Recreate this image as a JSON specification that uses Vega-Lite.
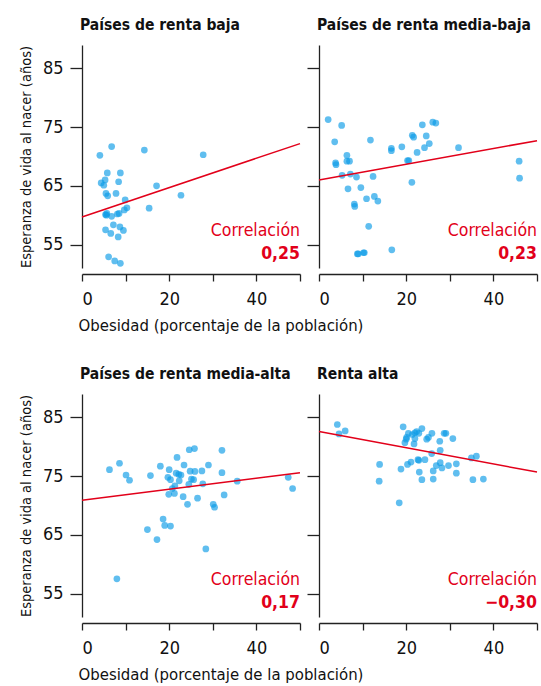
{
  "$schema": "https://vega.github.io/schema/vega-lite/v6.json",
  "padding": {"left": 18, "top": 17, "right": 0, "bottom": 0},
  "background": "white",
  "config": {
    "view": {"stroke": null},
    "font": "DejaVu Sans Condensed, Liberation Sans, sans-serif",
    "axis": {
      "grid": false,
      "domainColor": "#222",
      "domainWidth": 1.3,
      "tickColor": "#222",
      "tickWidth": 1.3,
      "labelFontSize": 18,
      "labelColor": "#111",
      "titleColor": "#111",
      "titleFontWeight": "normal"
    },
    "axisX": {"tickSize": 7, "offset": 6, "labelPadding": 9, "titleFontSize": 16.6, "titlePadding": 9},
    "axisY": {"tickSize": 12, "labelPadding": 7, "titleFontSize": 14.5, "titlePadding": 9},
    "title": {"anchor": "start", "frame": "group", "fontSize": 15.5, "fontWeight": "bold", "color": "#111", "offset": 12, "baseline": "alphabetic", "dx": -2}
  },
  "datasets": {
    "points": [
      {"g": "b", "x": 4.1, "y": 70.2}, {"g": "b", "x": 6.8, "y": 71.7}, {"g": "b", "x": 14.3, "y": 71.1}, {"g": "b", "x": 27.8, "y": 70.3},
      {"g": "b", "x": 5.8, "y": 67.2}, {"g": "b", "x": 8.8, "y": 67.2}, {"g": "b", "x": 5.3, "y": 66.0}, {"g": "b", "x": 4.4, "y": 65.5},
      {"g": "b", "x": 5.0, "y": 65.1}, {"g": "b", "x": 8.4, "y": 65.7}, {"g": "b", "x": 17.1, "y": 65.0}, {"g": "b", "x": 5.5, "y": 63.7},
      {"g": "b", "x": 5.9, "y": 63.3}, {"g": "b", "x": 7.8, "y": 63.7}, {"g": "b", "x": 22.7, "y": 63.4}, {"g": "b", "x": 9.9, "y": 62.6},
      {"g": "b", "x": 10.3, "y": 61.25}, {"g": "b", "x": 9.7, "y": 60.9}, {"g": "b", "x": 15.4, "y": 61.2}, {"g": "b", "x": 5.4, "y": 60.1},
      {"g": "b", "x": 5.7, "y": 60.3}, {"g": "b", "x": 6.8, "y": 59.8}, {"g": "b", "x": 8.1, "y": 60.2}, {"g": "b", "x": 8.5, "y": 60.3},
      {"g": "b", "x": 7.2, "y": 58.35}, {"g": "b", "x": 8.7, "y": 58.0}, {"g": "b", "x": 9.5, "y": 57.4}, {"g": "b", "x": 5.4, "y": 57.5},
      {"g": "b", "x": 6.6, "y": 56.9}, {"g": "b", "x": 8.3, "y": 56.3}, {"g": "b", "x": 6.1, "y": 52.9}, {"g": "b", "x": 7.5, "y": 52.2},
      {"g": "b", "x": 8.8, "y": 51.8}, {"g": "b", "x": 5.6, "y": 60.0},

      {"g": "mb", "x": 2.1, "y": 76.3}, {"g": "mb", "x": 5.2, "y": 75.3}, {"g": "mb", "x": 3.6, "y": 72.5}, {"g": "mb", "x": 11.8, "y": 72.8},
      {"g": "mb", "x": 3.8, "y": 68.9}, {"g": "mb", "x": 3.9, "y": 68.6}, {"g": "mb", "x": 6.4, "y": 70.2}, {"g": "mb", "x": 6.4, "y": 69.2},
      {"g": "mb", "x": 7.0, "y": 69.2}, {"g": "mb", "x": 5.3, "y": 66.8}, {"g": "mb", "x": 7.2, "y": 67.0}, {"g": "mb", "x": 8.6, "y": 66.5},
      {"g": "mb", "x": 12.4, "y": 66.6}, {"g": "mb", "x": 6.65, "y": 64.5}, {"g": "mb", "x": 9.6, "y": 64.7}, {"g": "mb", "x": 10.9, "y": 62.8},
      {"g": "mb", "x": 12.7, "y": 63.2}, {"g": "mb", "x": 13.5, "y": 62.4}, {"g": "mb", "x": 8.1, "y": 61.9}, {"g": "mb", "x": 8.2, "y": 61.5},
      {"g": "mb", "x": 11.4, "y": 58.1}, {"g": "mb", "x": 8.8, "y": 53.4}, {"g": "mb", "x": 9.0, "y": 53.4}, {"g": "mb", "x": 10.2, "y": 53.6},
      {"g": "mb", "x": 10.4, "y": 53.6}, {"g": "mb", "x": 16.7, "y": 54.1}, {"g": "mb", "x": 16.6, "y": 71.4}, {"g": "mb", "x": 16.6, "y": 71.0},
      {"g": "mb", "x": 19.0, "y": 71.65}, {"g": "mb", "x": 20.3, "y": 69.3}, {"g": "mb", "x": 20.6, "y": 69.3}, {"g": "mb", "x": 21.3, "y": 65.6},
      {"g": "mb", "x": 21.4, "y": 73.6}, {"g": "mb", "x": 21.7, "y": 73.3}, {"g": "mb", "x": 22.5, "y": 70.7}, {"g": "mb", "x": 23.7, "y": 75.4},
      {"g": "mb", "x": 24.6, "y": 73.5}, {"g": "mb", "x": 24.2, "y": 71.5}, {"g": "mb", "x": 25.3, "y": 72.2}, {"g": "mb", "x": 26.1, "y": 75.85},
      {"g": "mb", "x": 26.8, "y": 75.7}, {"g": "mb", "x": 32.0, "y": 71.5}, {"g": "mb", "x": 45.9, "y": 69.2}, {"g": "mb", "x": 46.0, "y": 66.3},

      {"g": "ma", "x": 6.3, "y": 76.1}, {"g": "ma", "x": 8.6, "y": 77.2}, {"g": "ma", "x": 10.1, "y": 75.2}, {"g": "ma", "x": 10.9, "y": 74.3},
      {"g": "ma", "x": 8.0, "y": 57.5}, {"g": "ma", "x": 15.0, "y": 65.9}, {"g": "ma", "x": 15.7, "y": 75.1}, {"g": "ma", "x": 17.2, "y": 64.2},
      {"g": "ma", "x": 18.6, "y": 67.7}, {"g": "ma", "x": 18.97, "y": 66.6}, {"g": "ma", "x": 20.3, "y": 66.5}, {"g": "ma", "x": 17.97, "y": 76.7},
      {"g": "ma", "x": 20.0, "y": 76.1}, {"g": "ma", "x": 19.7, "y": 74.8}, {"g": "ma", "x": 20.3, "y": 74.4}, {"g": "ma", "x": 21.8, "y": 78.2},
      {"g": "ma", "x": 21.6, "y": 75.5}, {"g": "ma", "x": 22.2, "y": 75.3}, {"g": "ma", "x": 22.7, "y": 75.2}, {"g": "ma", "x": 22.3, "y": 74.2},
      {"g": "ma", "x": 21.3, "y": 73.35}, {"g": "ma", "x": 20.7, "y": 72.9}, {"g": "ma", "x": 19.9, "y": 71.9}, {"g": "ma", "x": 21.2, "y": 72.05},
      {"g": "ma", "x": 23.4, "y": 76.9}, {"g": "ma", "x": 23.2, "y": 71.5}, {"g": "ma", "x": 24.2, "y": 70.2}, {"g": "ma", "x": 24.6, "y": 79.5},
      {"g": "ma", "x": 25.8, "y": 79.7}, {"g": "ma", "x": 24.8, "y": 75.85}, {"g": "ma", "x": 25.9, "y": 75.8}, {"g": "ma", "x": 25.1, "y": 74.5},
      {"g": "ma", "x": 25.6, "y": 74.4}, {"g": "ma", "x": 24.5, "y": 73.6}, {"g": "ma", "x": 26.5, "y": 71.25}, {"g": "ma", "x": 27.5, "y": 75.9},
      {"g": "ma", "x": 27.7, "y": 73.7}, {"g": "ma", "x": 29.0, "y": 76.9}, {"g": "ma", "x": 28.4, "y": 62.6}, {"g": "ma", "x": 30.1, "y": 70.2},
      {"g": "ma", "x": 30.4, "y": 69.7}, {"g": "ma", "x": 32.1, "y": 79.4}, {"g": "ma", "x": 32.1, "y": 75.6}, {"g": "ma", "x": 32.6, "y": 71.8},
      {"g": "ma", "x": 35.6, "y": 74.15}, {"g": "ma", "x": 47.3, "y": 74.8}, {"g": "ma", "x": 48.3, "y": 72.9},

      {"g": "a", "x": 4.2, "y": 83.8}, {"g": "a", "x": 4.6, "y": 82.2}, {"g": "a", "x": 6.0, "y": 82.7}, {"g": "a", "x": 13.9, "y": 77.0},
      {"g": "a", "x": 13.8, "y": 74.15}, {"g": "a", "x": 18.4, "y": 70.45}, {"g": "a", "x": 18.8, "y": 76.2}, {"g": "a", "x": 19.3, "y": 83.4},
      {"g": "a", "x": 19.7, "y": 80.7}, {"g": "a", "x": 20.0, "y": 81.3}, {"g": "a", "x": 20.1, "y": 81.6}, {"g": "a", "x": 20.5, "y": 82.3},
      {"g": "a", "x": 21.1, "y": 77.4}, {"g": "a", "x": 20.3, "y": 77.0}, {"g": "a", "x": 21.4, "y": 82.1}, {"g": "a", "x": 22.0, "y": 82.4},
      {"g": "a", "x": 22.0, "y": 81.4}, {"g": "a", "x": 21.8, "y": 80.5}, {"g": "a", "x": 22.4, "y": 82.6}, {"g": "a", "x": 22.9, "y": 82.3},
      {"g": "a", "x": 23.6, "y": 83.1}, {"g": "a", "x": 22.7, "y": 77.8}, {"g": "a", "x": 22.9, "y": 77.7}, {"g": "a", "x": 23.0, "y": 75.7},
      {"g": "a", "x": 23.6, "y": 74.4}, {"g": "a", "x": 24.3, "y": 77.8}, {"g": "a", "x": 24.7, "y": 81.3}, {"g": "a", "x": 25.1, "y": 81.6},
      {"g": "a", "x": 25.9, "y": 82.3}, {"g": "a", "x": 25.85, "y": 78.85}, {"g": "a", "x": 26.2, "y": 75.9}, {"g": "a", "x": 26.2, "y": 74.5},
      {"g": "a", "x": 26.9, "y": 76.8}, {"g": "a", "x": 27.7, "y": 80.95}, {"g": "a", "x": 27.8, "y": 79.4}, {"g": "a", "x": 27.8, "y": 77.3},
      {"g": "a", "x": 28.2, "y": 76.4}, {"g": "a", "x": 28.7, "y": 82.3}, {"g": "a", "x": 29.1, "y": 82.3}, {"g": "a", "x": 29.7, "y": 76.8},
      {"g": "a", "x": 30.7, "y": 81.4}, {"g": "a", "x": 31.5, "y": 77.1}, {"g": "a", "x": 31.5, "y": 75.5}, {"g": "a", "x": 34.95, "y": 78.1},
      {"g": "a", "x": 36.1, "y": 78.4}, {"g": "a", "x": 35.3, "y": 74.4}, {"g": "a", "x": 37.7, "y": 74.5}
    ],
    "lines": [
      {"g": "b", "x": 0, "y": 59.7}, {"g": "b", "x": 50, "y": 72.2},
      {"g": "mb", "x": 0, "y": 66.0}, {"g": "mb", "x": 50, "y": 72.7},
      {"g": "ma", "x": 0, "y": 70.9}, {"g": "ma", "x": 50, "y": 75.6},
      {"g": "a", "x": 0, "y": 82.6}, {"g": "a", "x": 50, "y": 75.7}
    ],
    "corr": [
      {"g": "b", "r": "0,25"}, {"g": "mb", "r": "0,23"}, {"g": "ma", "r": "0,17"}, {"g": "a", "r": "−0,30"}
    ]
  },
  "columns": 2,
  "bounds": "flush",
  "spacing": {"row": 126, "column": 19},
  "concat": [
    {
      "width": 218, "height": 223,
      "title": {"text": "Países de renta baja"},
      "layer": [
        {"data": {"name": "points"}, "transform": [{"filter": "datum.g == 'b'"}],
         "mark": {"type": "circle", "size": 45, "color": "#0a9be6", "opacity": 0.65},
         "encoding": {
           "x": {"field": "x", "type": "quantitative", "scale": {"domain": [0, 50], "nice": false},
                 "axis": {"values": [0, 10, 20, 30, 40, 50], "labelExpr": "datum.value % 20 == 0 ? datum.label : ''", "title": "Obesidad (porcentaje de la población)", "titleAnchor": "start", "titleAlign": "left", "titleX": -4}},
           "y": {"field": "y", "type": "quantitative", "scale": {"domain": [51, 89], "nice": false, "zero": false},
                 "axis": {"values": [55, 65, 75, 85], "title": "Esperanza de vida al nacer (años)"}}
         }},
        {"data": {"name": "lines"}, "transform": [{"filter": "datum.g == 'b'"}],
         "mark": {"type": "line", "color": "#e2001a", "strokeWidth": 1.5},
         "encoding": {"x": {"field": "x", "type": "quantitative"}, "y": {"field": "y", "type": "quantitative"}}},
        {"data": {"name": "corr"}, "transform": [{"filter": "datum.g == 'b'"}],
         "mark": {"type": "text", "align": "right", "baseline": "alphabetic", "fontSize": 17.5, "color": "#e2001a"},
         "encoding": {"x": {"datum": 50}, "y": {"datum": 56.4}, "text": {"value": "Correlación"}}},
        {"data": {"name": "corr"}, "transform": [{"filter": "datum.g == 'b'"}],
         "mark": {"type": "text", "align": "right", "baseline": "alphabetic", "fontSize": 17.5, "fontWeight": "bold", "color": "#e2001a"},
         "encoding": {"x": {"datum": 50}, "y": {"datum": 52.55}, "text": {"field": "r"}}}
      ]
    },
    {
      "width": 218, "height": 223,
      "title": {"text": "Países de renta media-baja"},
      "layer": [
        {"data": {"name": "points"}, "transform": [{"filter": "datum.g == 'mb'"}],
         "mark": {"type": "circle", "size": 45, "color": "#0a9be6", "opacity": 0.65},
         "encoding": {
           "x": {"field": "x", "type": "quantitative", "scale": {"domain": [0, 50], "nice": false},
                 "axis": {"values": [0, 10, 20, 30, 40, 50], "labelExpr": "datum.value % 20 == 0 ? datum.label : ''", "title": null}},
           "y": {"field": "y", "type": "quantitative", "scale": {"domain": [51, 89], "nice": false, "zero": false},
                 "axis": {"values": [55, 65, 75, 85], "labels": false, "title": null}}
         }},
        {"data": {"name": "lines"}, "transform": [{"filter": "datum.g == 'mb'"}],
         "mark": {"type": "line", "color": "#e2001a", "strokeWidth": 1.5},
         "encoding": {"x": {"field": "x", "type": "quantitative"}, "y": {"field": "y", "type": "quantitative"}}},
        {"data": {"name": "corr"}, "transform": [{"filter": "datum.g == 'mb'"}],
         "mark": {"type": "text", "align": "right", "baseline": "alphabetic", "fontSize": 17.5, "color": "#e2001a"},
         "encoding": {"x": {"datum": 50}, "y": {"datum": 56.4}, "text": {"value": "Correlación"}}},
        {"data": {"name": "corr"}, "transform": [{"filter": "datum.g == 'mb'"}],
         "mark": {"type": "text", "align": "right", "baseline": "alphabetic", "fontSize": 17.5, "fontWeight": "bold", "color": "#e2001a"},
         "encoding": {"x": {"datum": 50}, "y": {"datum": 52.55}, "text": {"field": "r"}}}
      ]
    },
    {
      "width": 218, "height": 223,
      "title": {"text": "Países de renta media-alta"},
      "layer": [
        {"data": {"name": "points"}, "transform": [{"filter": "datum.g == 'ma'"}],
         "mark": {"type": "circle", "size": 45, "color": "#0a9be6", "opacity": 0.65},
         "encoding": {
           "x": {"field": "x", "type": "quantitative", "scale": {"domain": [0, 50], "nice": false},
                 "axis": {"values": [0, 10, 20, 30, 40, 50], "labelExpr": "datum.value % 20 == 0 ? datum.label : ''", "title": "Obesidad (porcentaje de la población)", "titleAnchor": "start", "titleAlign": "left", "titleX": -4}},
           "y": {"field": "y", "type": "quantitative", "scale": {"domain": [51, 89], "nice": false, "zero": false},
                 "axis": {"values": [55, 65, 75, 85], "title": "Esperanza de vida al nacer (años)"}}
         }},
        {"data": {"name": "lines"}, "transform": [{"filter": "datum.g == 'ma'"}],
         "mark": {"type": "line", "color": "#e2001a", "strokeWidth": 1.5},
         "encoding": {"x": {"field": "x", "type": "quantitative"}, "y": {"field": "y", "type": "quantitative"}}},
        {"data": {"name": "corr"}, "transform": [{"filter": "datum.g == 'ma'"}],
         "mark": {"type": "text", "align": "right", "baseline": "alphabetic", "fontSize": 17.5, "color": "#e2001a"},
         "encoding": {"x": {"datum": 50}, "y": {"datum": 56.4}, "text": {"value": "Correlación"}}},
        {"data": {"name": "corr"}, "transform": [{"filter": "datum.g == 'ma'"}],
         "mark": {"type": "text", "align": "right", "baseline": "alphabetic", "fontSize": 17.5, "fontWeight": "bold", "color": "#e2001a"},
         "encoding": {"x": {"datum": 50}, "y": {"datum": 52.55}, "text": {"field": "r"}}}
      ]
    },
    {
      "width": 218, "height": 223,
      "title": {"text": "Renta alta"},
      "layer": [
        {"data": {"name": "points"}, "transform": [{"filter": "datum.g == 'a'"}],
         "mark": {"type": "circle", "size": 45, "color": "#0a9be6", "opacity": 0.65},
         "encoding": {
           "x": {"field": "x", "type": "quantitative", "scale": {"domain": [0, 50], "nice": false},
                 "axis": {"values": [0, 10, 20, 30, 40, 50], "labelExpr": "datum.value % 20 == 0 ? datum.label : ''", "title": null}},
           "y": {"field": "y", "type": "quantitative", "scale": {"domain": [51, 89], "nice": false, "zero": false},
                 "axis": {"values": [55, 65, 75, 85], "labels": false, "title": null}}
         }},
        {"data": {"name": "lines"}, "transform": [{"filter": "datum.g == 'a'"}],
         "mark": {"type": "line", "color": "#e2001a", "strokeWidth": 1.5},
         "encoding": {"x": {"field": "x", "type": "quantitative"}, "y": {"field": "y", "type": "quantitative"}}},
        {"data": {"name": "corr"}, "transform": [{"filter": "datum.g == 'a'"}],
         "mark": {"type": "text", "align": "right", "baseline": "alphabetic", "fontSize": 17.5, "color": "#e2001a"},
         "encoding": {"x": {"datum": 50}, "y": {"datum": 56.4}, "text": {"value": "Correlación"}}},
        {"data": {"name": "corr"}, "transform": [{"filter": "datum.g == 'a'"}],
         "mark": {"type": "text", "align": "right", "baseline": "alphabetic", "fontSize": 17.5, "fontWeight": "bold", "color": "#e2001a"},
         "encoding": {"x": {"datum": 50}, "y": {"datum": 52.55}, "text": {"field": "r"}}}
      ]
    }
  ]
}
